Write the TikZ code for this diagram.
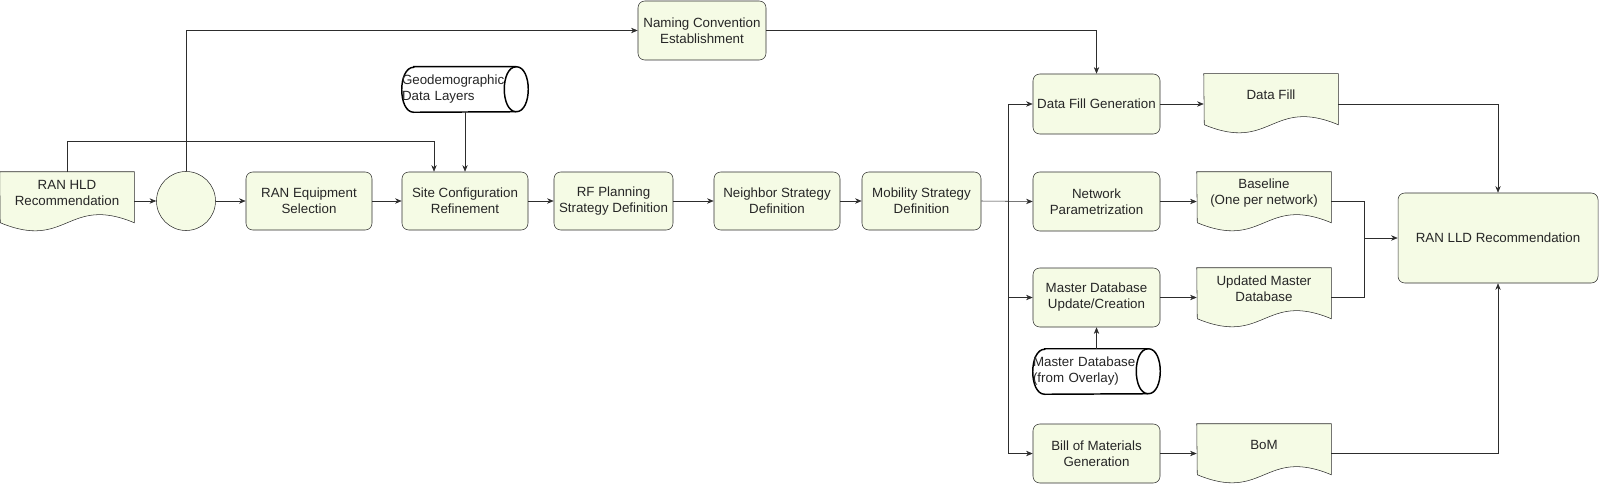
\documentclass[tikz,border=0pt]{standalone}
\usepackage{fontspec}
\setmainfont{Liberation Sans}
\usetikzlibrary{arrows.meta,calc,backgrounds}
\definecolor{boxfill}{RGB}{245,251,229}
\definecolor{linegray}{RGB}{45,45,45}

\tikzset{
  procbox/.style={draw=linegray, fill=boxfill, rounded corners=5pt, align=center, inner sep=1pt, minimum height=43.5pt, text=black!85},
  docbox/.style={align=center, inner sep=1pt, minimum width=100.5pt, minimum height=31.5pt, text=black!85},
  docline/.style={draw=linegray, fill=boxfill},
  dbcyl/.style={inner sep=0pt, text width=94.5pt, minimum height=33.75pt, align=left, text=black!85},
  cylline/.style={draw=black, line width=1.1pt, fill=white},
  arr/.style={draw=linegray, -{Stealth[length=5pt,width=4pt]}},
}

% wavy bottom of a document shape
\newcommand{\docoutline}[1]{%
  \filldraw[docline] (#1.north west) -- (#1.north east) -- ++(0,51) .. controls +(-67,-28) and +(67,28) .. ++(-134,0) -- cycle;}
% lying cylinder, open end on the right
\newcommand{\cyloutline}[1]{%
  \filldraw[cylline] ($(#1.north west)+(12,0)$) -- ($(#1.north east)+(-12,0)$) .. controls +(16,0) and +(16,0) .. ++(0,45)
    -- ($(#1.south west)+(12,0)$) .. controls +(-16,0) and +(-16,0) .. ++(0,-45) -- cycle;
  \draw[cylline, fill=none] ($(#1.north east)+(-12,0)$) .. controls +(-16,0) and +(-16,0) .. ++(0,45);}

\begin{document}
\begin{tikzpicture}[x=0.75pt,y=0.75pt,yscale=-1,xscale=1,font=\fontsize{10}{12}\selectfont]
  \useasboundingbox (0,0) rectangle (1599,485);

  %Shape: Document
  \node[docbox] (hld) at (67,193) {RAN HLD\\Recommendation};
  %Shape: Circle
  \node[circle, draw=linegray, fill=boxfill, minimum size=44.25pt, inner sep=0pt] (circ) at (186,201) {};
  %Shape: Rounded Rect
  \node[procbox, minimum width=94.5pt] (equip) at (309,201) {RAN Equipment\\Selection};
  \node[procbox, minimum width=94.5pt] (site) at (465,201) {Site Configuration\\Refinement};
  \node[procbox, minimum width=89.25pt] (rfplan) at (613.5,201) {RF Planning\\Strategy Definition};
  \node[procbox, minimum width=94.5pt] (neigh) at (777,201) {Neighbor Strategy\\Definition};
  \node[procbox, minimum width=89.25pt] (mob) at (921.5,201) {Mobility Strategy\\Definition};
  \node[procbox, minimum width=96pt, minimum height=44.25pt] (naming) at (702,30.5) {Naming Convention\\Establishment};

  %Shape: Cylinder
  \node[dbcyl] (geo) at (465,89.5) {Geodemographic\\Data Layers};

  %Shape: Rounded Rect
  \node[procbox, minimum width=95.25pt, minimum height=45pt] (dfgen) at (1096.5,104) {Data Fill Generation};
  \node[procbox, minimum width=95.25pt, minimum height=44.25pt] (netpar) at (1096.5,201.5) {Network\\Parametrization};
  \node[procbox, minimum width=95.25pt, minimum height=44.25pt] (mdbupd) at (1096.5,297.5) {Master Database\\Update/Creation};
  \node[procbox, minimum width=95.25pt, minimum height=44.25pt] (bomgen) at (1096.5,453.5) {Bill of Materials\\Generation};
  %Shape: Cylinder
  \node[dbcyl, text width=95.25pt] (mdbcyl) at (1096.5,371.5) {Master Database\\(from Overlay)};

  %Shape: Document
  \node[docbox] (dfdoc) at (1271,95) {Data Fill};
  \node[docbox] (basedoc) at (1264,193) {Baseline\\(One per network)};
  \node[docbox] (upddoc) at (1264,289) {Updated Master\\Database};
  \node[docbox] (bomdoc) at (1264,445) {BoM};

  \node[procbox, minimum width=150pt, minimum height=67.5pt] (lld) at (1498,238) {RAN LLD Recommendation};

  \begin{scope}[on background layer]
    \docoutline{hld}
    \docoutline{dfdoc}
    \docoutline{basedoc}
    \docoutline{upddoc}
    \docoutline{bomdoc}
    \cyloutline{geo}
    \cyloutline{mdbcyl}
  \end{scope}

  \coordinate (hldturn) at (434,141);
  \coordinate (split) at (1008,201);
  \coordinate (join) at (1364,238);

  %Straight Lines
  \draw[arr] (hld.east |- circ) -- (circ.west);
  \draw[arr] (circ) -- (equip);
  \draw[arr] (equip) -- (site);
  \draw[arr] (site) -- (rfplan);
  \draw[arr] (rfplan) -- (neigh);
  \draw[arr] (neigh) -- (mob);
  \draw[arr] (hld.north) |- (hldturn) -- (hldturn |- site.north);
  \draw[arr] (site.north |- geo.south) -- (site.north);
  \draw[arr] (circ.north) |- (naming.west);
  \draw[arr] (naming.east) -| (dfgen.north);

  \draw[arr] (mob.east) -- (netpar.west);
  \draw[arr] (split) |- (dfgen.west);
  \draw[arr] (split) |- (mdbupd.west);
  \draw[arr] (split) |- (bomgen.west);
  \draw[arr] (mdbupd.south |- mdbcyl.north) -- (mdbupd.south);

  \draw[arr] (dfgen.east) -- (dfgen -| dfdoc.west);
  \draw[arr] (netpar.east) -- (netpar -| basedoc.west);
  \draw[arr] (mdbupd.east) -- (mdbupd -| upddoc.west);
  \draw[arr] (bomgen.east) -- (bomgen -| bomdoc.west);

  \draw[arr] (dfdoc.east |- dfgen) -| (lld.north);
  \draw[linegray] (basedoc.east |- netpar) -| (join);
  \draw[linegray] (upddoc.east |- mdbupd) -| (join);
  \draw[arr] (join) -- (lld.west);
  \draw[arr] (bomdoc.east |- bomgen) -| (lld.south);

\end{tikzpicture}
\end{document}
